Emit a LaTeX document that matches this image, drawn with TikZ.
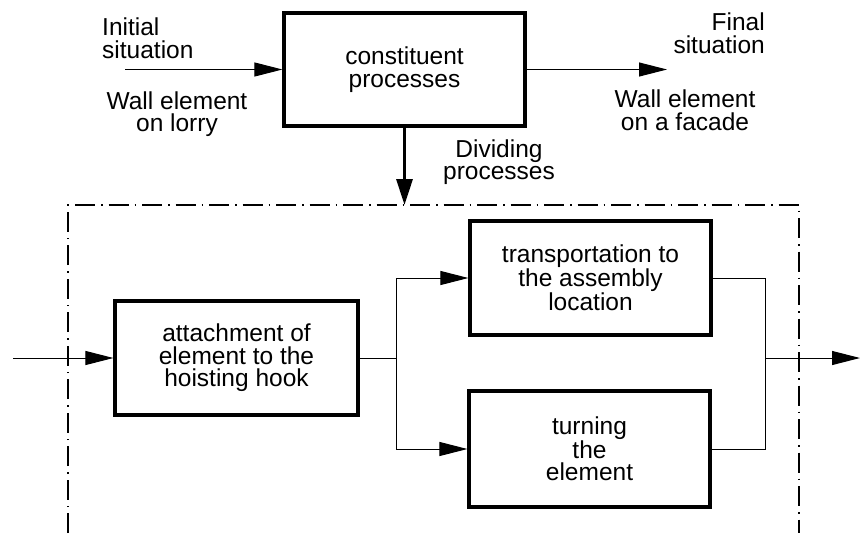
\documentclass[tikz,border=0pt]{standalone}
\usepackage{fontspec}
\setmainfont{Liberation Sans}
\usetikzlibrary{arrows.meta}
\begin{document}
\begin{tikzpicture}[x=1pt,y=-1pt,
  procbox/.style={draw,line width=3.2pt,minimum width=#1,align=center,inner sep=0pt},
  lbl/.style={align=center,inner sep=0pt},
  conn/.style={line width=1pt},
  arr/.style={line width=1pt,-{Triangle[length=28pt,width=14pt]}},
  bigarr/.style={line width=3.2pt,-{Triangle[length=26pt,width=16pt]}},
  dashdot/.style={line width=1.3pt,dash pattern=on 20pt off 6pt on 1.5pt off 6pt}
]
\path[use as bounding box] (0,0) rectangle (861,533);
\tikzset{every node/.style={font=\fontsize{24.5}{22.5}\selectfont}}

% top process
\node[procbox=241pt,minimum height=113pt] (top) at (404.5,69.5) {constituent\\processes};
\coordinate (in1) at (125,69.5);
\coordinate (out1) at (667,69.5);
\coordinate (down) at (404.5,205);
\draw[arr] (in1) -- (top.west);
\draw[arr] (top.east) -- (out1);
\draw[bigarr] (top.south) -- (down);

\node[lbl,align=left,anchor=west] (init) at (102,38) {Initial\\situation};
\node[lbl] (lorry) at (177,114) {Wall element\\on lorry};
\node[lbl,align=right,anchor=east] (final) at (765,33) {Final\\situation};
\node[lbl] (facade) at (685,110) {Wall element\\on a facade};
\node[lbl] (divid) at (499,162) {Dividing\\processes};

% dashed frame
\draw[dashdot] (68,533) -- (68,205) -- (799,205) -- (799,533);

% lower processes
\node[procbox=243pt,minimum height=114pt] (att) at (236.5,358) {attachment of\\element to the\\hoisting hook};
\node[procbox=241pt,minimum height=114pt] (trans) at (590.5,278) {transportation to\\the assembly\\location};
\node[procbox=241pt,minimum height=116pt] (turn) at (589.5,449) {turning\\the\\element};

\coordinate (in2) at (13,358);
\coordinate (split) at (396,358);
\coordinate (merge) at (765,358);
\coordinate (out2) at (860,358);

\draw[arr] (in2) -- (att.west);
\draw[conn] (att.east) -- (split);
\draw[arr] (split) |- (trans.west);
\draw[arr] (split) |- (turn.west);
\draw[conn] (trans.east) -| (merge);
\draw[conn] (turn.east) -| (merge);
\draw[arr] (merge) -- (out2);
\end{tikzpicture}
\end{document}
